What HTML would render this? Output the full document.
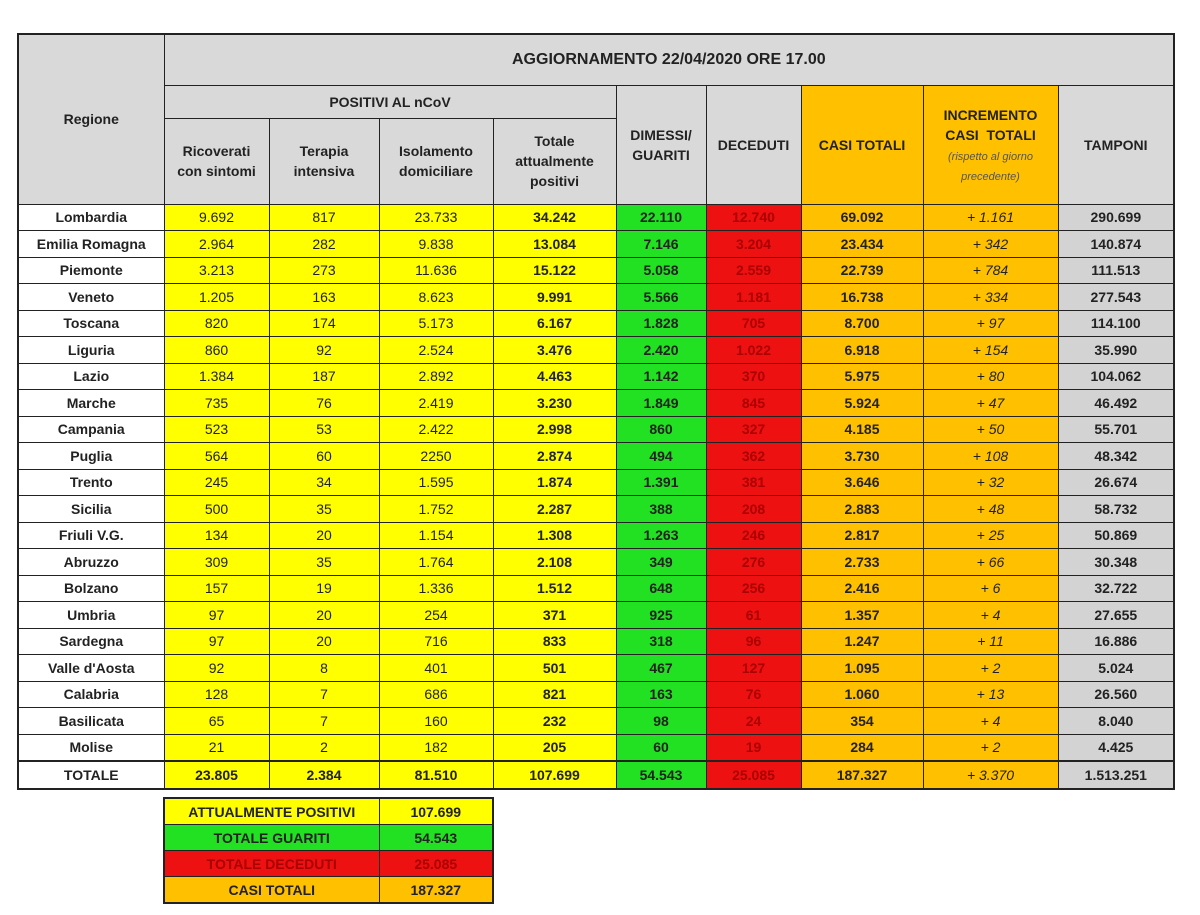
<!DOCTYPE html>
<html><head><meta charset="utf-8"><style>
body{margin:0;background:#fff;width:1200px;height:915px;position:relative;overflow:hidden;font-family:"Liberation Sans",sans-serif;}
table{border-collapse:collapse;table-layout:fixed;position:absolute;}
td{border:1.5px solid #222;text-align:center;vertical-align:middle;padding:0;font-size:14px;color:#222;overflow:hidden;white-space:nowrap;}
#t{left:17px;top:33px;width:1156px;border:2.5px solid #222;}
.h{background:#d9d9d9;font-weight:bold;font-size:14px;white-space:normal;line-height:20px;}
.r{background:#fff;font-weight:bold;}
.y{background:#ffff00;}
.yb{background:#ffff00;font-weight:bold;}
.g{background:#22e022;font-weight:bold;}
.d{background:#ee1111;color:#a00;font-weight:bold;}
.o{background:#ffc000;font-weight:bold;}
.oi{background:#ffc000;font-style:italic;}
.t{background:#d3d3d3;font-weight:bold;}
tr.dr{height:26.5px;}
tr.dr td{height:24.5px;}
#s{left:163px;top:797px;width:329px;border:2px solid #222;}
#s td{height:25px;font-weight:bold;font-size:14px;}
</style></head><body>
<table id="t">
<colgroup><col style="width:146px"><col style="width:105px"><col style="width:110px"><col style="width:114px"><col style="width:123px"><col style="width:90px"><col style="width:95px"><col style="width:122px"><col style="width:135px"><col style="width:116px"></colgroup>
<tr style="height:51px"><td class="h" rowspan="3">Regione</td><td class="h" colspan="9" style="font-size:16px">AGGIORNAMENTO 22/04/2020 ORE 17.00</td></tr>
<tr style="height:33px"><td class="h" colspan="4">POSITIVI AL nCoV</td><td class="h" rowspan="2">DIMESSI/<br>GUARITI</td><td class="h" rowspan="2">DECEDUTI</td><td class="h" rowspan="2" style="background:#ffc000">CASI TOTALI</td><td class="h" rowspan="2" style="background:#ffc000">INCREMENTO<br>CASI&nbsp; TOTALI<br><span style="font-size:11px;font-weight:normal;font-style:italic;line-height:14px;color:#555">(rispetto al giorno<br>precedente)</span></td><td class="h" rowspan="2">TAMPONI</td></tr>
<tr style="height:86px"><td class="h">Ricoverati<br>con sintomi</td><td class="h">Terapia<br>intensiva</td><td class="h">Isolamento<br>domiciliare</td><td class="h">Totale<br>attualmente<br>positivi</td></tr>
<tr class="dr"><td class="r">Lombardia</td><td class="y">9.692</td><td class="y">817</td><td class="y">23.733</td><td class="yb">34.242</td><td class="g">22.110</td><td class="d">12.740</td><td class="o">69.092</td><td class="oi">+ 1.161</td><td class="t">290.699</td></tr>
<tr class="dr"><td class="r">Emilia Romagna</td><td class="y">2.964</td><td class="y">282</td><td class="y">9.838</td><td class="yb">13.084</td><td class="g">7.146</td><td class="d">3.204</td><td class="o">23.434</td><td class="oi">+ 342</td><td class="t">140.874</td></tr>
<tr class="dr"><td class="r">Piemonte</td><td class="y">3.213</td><td class="y">273</td><td class="y">11.636</td><td class="yb">15.122</td><td class="g">5.058</td><td class="d">2.559</td><td class="o">22.739</td><td class="oi">+ 784</td><td class="t">111.513</td></tr>
<tr class="dr"><td class="r">Veneto</td><td class="y">1.205</td><td class="y">163</td><td class="y">8.623</td><td class="yb">9.991</td><td class="g">5.566</td><td class="d">1.181</td><td class="o">16.738</td><td class="oi">+ 334</td><td class="t">277.543</td></tr>
<tr class="dr"><td class="r">Toscana</td><td class="y">820</td><td class="y">174</td><td class="y">5.173</td><td class="yb">6.167</td><td class="g">1.828</td><td class="d">705</td><td class="o">8.700</td><td class="oi">+ 97</td><td class="t">114.100</td></tr>
<tr class="dr"><td class="r">Liguria</td><td class="y">860</td><td class="y">92</td><td class="y">2.524</td><td class="yb">3.476</td><td class="g">2.420</td><td class="d">1.022</td><td class="o">6.918</td><td class="oi">+ 154</td><td class="t">35.990</td></tr>
<tr class="dr"><td class="r">Lazio</td><td class="y">1.384</td><td class="y">187</td><td class="y">2.892</td><td class="yb">4.463</td><td class="g">1.142</td><td class="d">370</td><td class="o">5.975</td><td class="oi">+ 80</td><td class="t">104.062</td></tr>
<tr class="dr"><td class="r">Marche</td><td class="y">735</td><td class="y">76</td><td class="y">2.419</td><td class="yb">3.230</td><td class="g">1.849</td><td class="d">845</td><td class="o">5.924</td><td class="oi">+ 47</td><td class="t">46.492</td></tr>
<tr class="dr"><td class="r">Campania</td><td class="y">523</td><td class="y">53</td><td class="y">2.422</td><td class="yb">2.998</td><td class="g">860</td><td class="d">327</td><td class="o">4.185</td><td class="oi">+ 50</td><td class="t">55.701</td></tr>
<tr class="dr"><td class="r">Puglia</td><td class="y">564</td><td class="y">60</td><td class="y">2250</td><td class="yb">2.874</td><td class="g">494</td><td class="d">362</td><td class="o">3.730</td><td class="oi">+ 108</td><td class="t">48.342</td></tr>
<tr class="dr"><td class="r">Trento</td><td class="y">245</td><td class="y">34</td><td class="y">1.595</td><td class="yb">1.874</td><td class="g">1.391</td><td class="d">381</td><td class="o">3.646</td><td class="oi">+ 32</td><td class="t">26.674</td></tr>
<tr class="dr"><td class="r">Sicilia</td><td class="y">500</td><td class="y">35</td><td class="y">1.752</td><td class="yb">2.287</td><td class="g">388</td><td class="d">208</td><td class="o">2.883</td><td class="oi">+ 48</td><td class="t">58.732</td></tr>
<tr class="dr"><td class="r">Friuli V.G.</td><td class="y">134</td><td class="y">20</td><td class="y">1.154</td><td class="yb">1.308</td><td class="g">1.263</td><td class="d">246</td><td class="o">2.817</td><td class="oi">+ 25</td><td class="t">50.869</td></tr>
<tr class="dr"><td class="r">Abruzzo</td><td class="y">309</td><td class="y">35</td><td class="y">1.764</td><td class="yb">2.108</td><td class="g">349</td><td class="d">276</td><td class="o">2.733</td><td class="oi">+ 66</td><td class="t">30.348</td></tr>
<tr class="dr"><td class="r">Bolzano</td><td class="y">157</td><td class="y">19</td><td class="y">1.336</td><td class="yb">1.512</td><td class="g">648</td><td class="d">256</td><td class="o">2.416</td><td class="oi">+ 6</td><td class="t">32.722</td></tr>
<tr class="dr"><td class="r">Umbria</td><td class="y">97</td><td class="y">20</td><td class="y">254</td><td class="yb">371</td><td class="g">925</td><td class="d">61</td><td class="o">1.357</td><td class="oi">+ 4</td><td class="t">27.655</td></tr>
<tr class="dr"><td class="r">Sardegna</td><td class="y">97</td><td class="y">20</td><td class="y">716</td><td class="yb">833</td><td class="g">318</td><td class="d">96</td><td class="o">1.247</td><td class="oi">+ 11</td><td class="t">16.886</td></tr>
<tr class="dr"><td class="r">Valle d'Aosta</td><td class="y">92</td><td class="y">8</td><td class="y">401</td><td class="yb">501</td><td class="g">467</td><td class="d">127</td><td class="o">1.095</td><td class="oi">+ 2</td><td class="t">5.024</td></tr>
<tr class="dr"><td class="r">Calabria</td><td class="y">128</td><td class="y">7</td><td class="y">686</td><td class="yb">821</td><td class="g">163</td><td class="d">76</td><td class="o">1.060</td><td class="oi">+ 13</td><td class="t">26.560</td></tr>
<tr class="dr"><td class="r">Basilicata</td><td class="y">65</td><td class="y">7</td><td class="y">160</td><td class="yb">232</td><td class="g">98</td><td class="d">24</td><td class="o">354</td><td class="oi">+ 4</td><td class="t">8.040</td></tr>
<tr class="dr"><td class="r">Molise</td><td class="y">21</td><td class="y">2</td><td class="y">182</td><td class="yb">205</td><td class="g">60</td><td class="d">19</td><td class="o">284</td><td class="oi">+ 2</td><td class="t">4.425</td></tr>
<tr style="height:28px;border-top:2.5px solid #222"><td class="r">TOTALE</td><td class="yb">23.805</td><td class="yb">2.384</td><td class="yb">81.510</td><td class="yb">107.699</td><td class="g">54.543</td><td class="d">25.085</td><td class="o">187.327</td><td class="oi">+ 3.370</td><td class="t">1.513.251</td></tr>
</table>
<table id="s">
<colgroup><col style="width:215px"><col style="width:114px"></colgroup>
<tr><td class="y">ATTUALMENTE POSITIVI</td><td class="y">107.699</td></tr>
<tr><td class="g">TOTALE GUARITI</td><td class="g">54.543</td></tr>
<tr><td class="d">TOTALE DECEDUTI</td><td class="d">25.085</td></tr>
<tr><td class="o">CASI TOTALI</td><td class="o">187.327</td></tr>
</table>
</body></html>
